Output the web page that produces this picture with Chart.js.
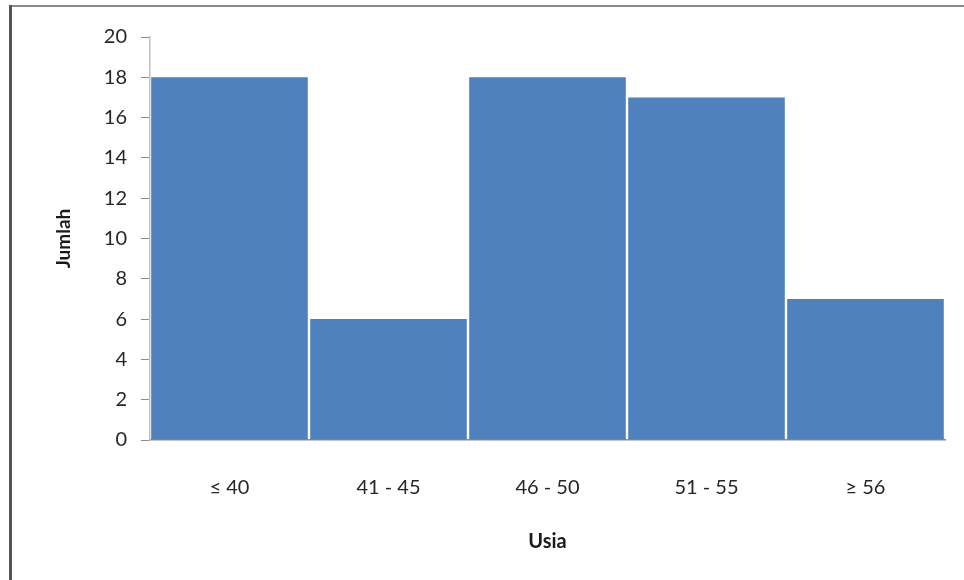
<!DOCTYPE html>
<html>
<head>
<meta charset="utf-8">
<script src="https://cdn.jsdelivr.net/npm/chart.js@4"></script>
<style>
  html, body { margin: 0; padding: 0; background: #fff; }
  #wrap { position: relative; width: 964px; height: 580px; }
  canvas { display: block; }
</style>
</head>
<body>
<div id="wrap"><canvas id="c" width="964" height="580"></canvas></div>
<script>
// Age groups and respondent counts
const categories = ['\u2264 40', '41 - 45', '46 - 50', '51 - 55', '\u2265 56'];
const counts = [18, 6, 18, 17, 7];
const yTicks = [0, 2, 4, 6, 8, 10, 12, 14, 16, 18, 20];

const FONT = 'Lato, "Open Sans", sans-serif';

// Outer frame: dark left edge and grey top edge
const framePlugin = {
  id: 'frame',
  afterDraw(chart) {
    const ctx = chart.ctx;
    ctx.save();
    ctx.fillStyle = '#8a8a8a';
    ctx.fillRect(10, 5, 954, 2);
    ctx.fillStyle = '#555';
    ctx.fillRect(9, 5, 3, 575);
    ctx.restore();
  }
};

new Chart(document.getElementById('c'), {
  type: 'bar',
  data: {
    labels: categories,
    datasets: [{
      data: counts,
      backgroundColor: '#4F81BD',
      borderWidth: 0,
      barPercentage: 0.985,
      categoryPercentage: 1.0
    }]
  },
  options: {
    responsive: false,
    animation: false,
    layout: { padding: { left: 52, right: 19, top: 37, bottom: 26 } },
    plugins: {
      legend: { display: false },
      tooltip: { enabled: false }
    },
    scales: {
      x: {
        grid: { display: false, drawTicks: false },
        border: { display: true, color: '#8c8c8c', width: 1.5 },
        ticks: { color: '#262626', font: { family: FONT, size: 20 }, padding: 36 },
        title: {
          display: true, text: 'Usia', color: '#1a1a1a',
          font: { family: FONT, size: 20, weight: 'bold' },
          padding: { top: -6, bottom: 0 }
        }
      },
      y: {
        min: 0, max: 20,
        afterBuildTicks(axis) { axis.ticks = yTicks.map(v => ({ value: v })); },
        grid: { drawOnChartArea: false, drawTicks: true, tickLength: 9, color: '#8c8c8c' },
        border: { display: true, color: '#bfbfbf', width: 1.5 },
        ticks: { color: '#262626', font: { family: FONT, size: 20 }, padding: 14 },
        title: {
          display: true, text: 'Jumlah', color: '#1a1a1a',
          font: { family: FONT, size: 19, weight: 'bold' },
          padding: { top: 0, bottom: 15 }
        }
      }
    }
  },
  plugins: [framePlugin]
});
</script>
</body>
</html>
